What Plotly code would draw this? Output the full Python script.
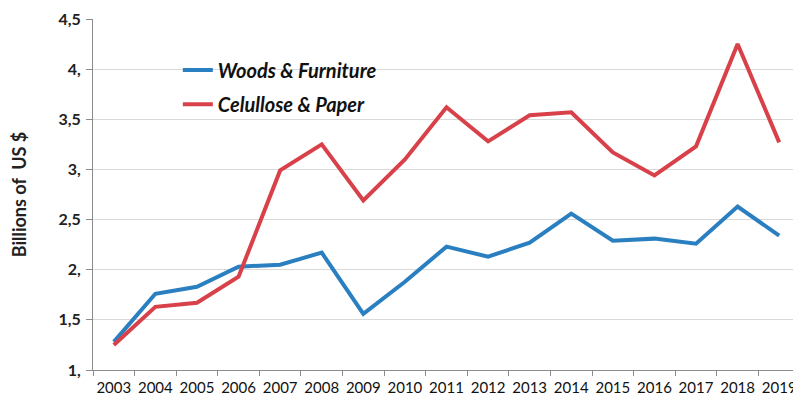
import plotly.graph_objects as go

years = [str(y) for y in range(2003, 2020)]
woods = [1.28, 1.76, 1.83, 2.03, 2.05, 2.17, 1.56, 1.88, 2.23, 2.13, 2.27, 2.56, 2.29, 2.31, 2.26, 2.63, 2.34]
paper = [1.25, 1.63, 1.67, 1.93, 2.99, 3.25, 2.69, 3.10, 3.62, 3.28, 3.54, 3.57, 3.17, 2.94, 3.23, 4.25, 3.27]
ytick_vals = [1, 1.5, 2, 2.5, 3, 3.5, 4, 4.5]
ytick_text = ["1,", "1,5", "2,", "2,5", "3,", "3,5", "4,", "4,5"]

BLUE = "#2a7fc1"
RED = "#d8414a"
FONT = "Lato"

fig = go.Figure()
fig.add_trace(go.Scatter(x=years, y=woods, mode="lines", name="Woods & Furniture",
                         line=dict(color=BLUE, width=4), legend="legend", showlegend=True))
fig.add_trace(go.Scatter(x=years, y=paper, mode="lines", name="Celullose & Paper",
                         line=dict(color=RED, width=4), legend="legend2", showlegend=True))

legfont = dict(family=FONT, size=20, color="#111", weight="bold", style="italic")
fig.update_layout(
    width=793, height=396,
    margin=dict(l=85, r=1, t=11, b=34),
    plot_bgcolor="white", paper_bgcolor="white",
    showlegend=True,
    font=dict(family=FONT, color="#222"),
    legend=dict(x=0.12, y=0.855, xanchor="left", yanchor="middle", font=legfont,
                bgcolor="rgba(0,0,0,0)", borderwidth=0),
    legend2=dict(x=0.12, y=0.757, xanchor="left", yanchor="middle", font=legfont,
                 bgcolor="rgba(0,0,0,0)", borderwidth=0),
    xaxis=dict(type="category", showgrid=False, showline=True, linecolor="#8c8c8c", linewidth=1,
               ticks="outside", ticklen=5, tickcolor="#8c8c8c", tickson="boundaries",
               tickangle=0, ticklabelstandoff=4, automargin=False,
               tickfont=dict(family=FONT, size=15, color="#111"), range=[-0.5, 16.5]),
    yaxis=dict(range=[1, 4.5], tickvals=ytick_vals, ticktext=ytick_text,
               showgrid=True, gridcolor="#d9d9d9", gridwidth=1,
               showline=True, linecolor="#8c8c8c", linewidth=1,
               ticks="outside", ticklen=6, tickcolor="#8c8c8c", ticklabelstandoff=2,
               automargin=False,
               tickfont=dict(family=FONT, size=16, color="#222", weight="bold"),
               title=dict(text="Billions of  US $", font=dict(family=FONT, size=18, color="#222", weight="bold"),
                          standoff=28),
               zeroline=False),
)

fig.write_html("out.html")
